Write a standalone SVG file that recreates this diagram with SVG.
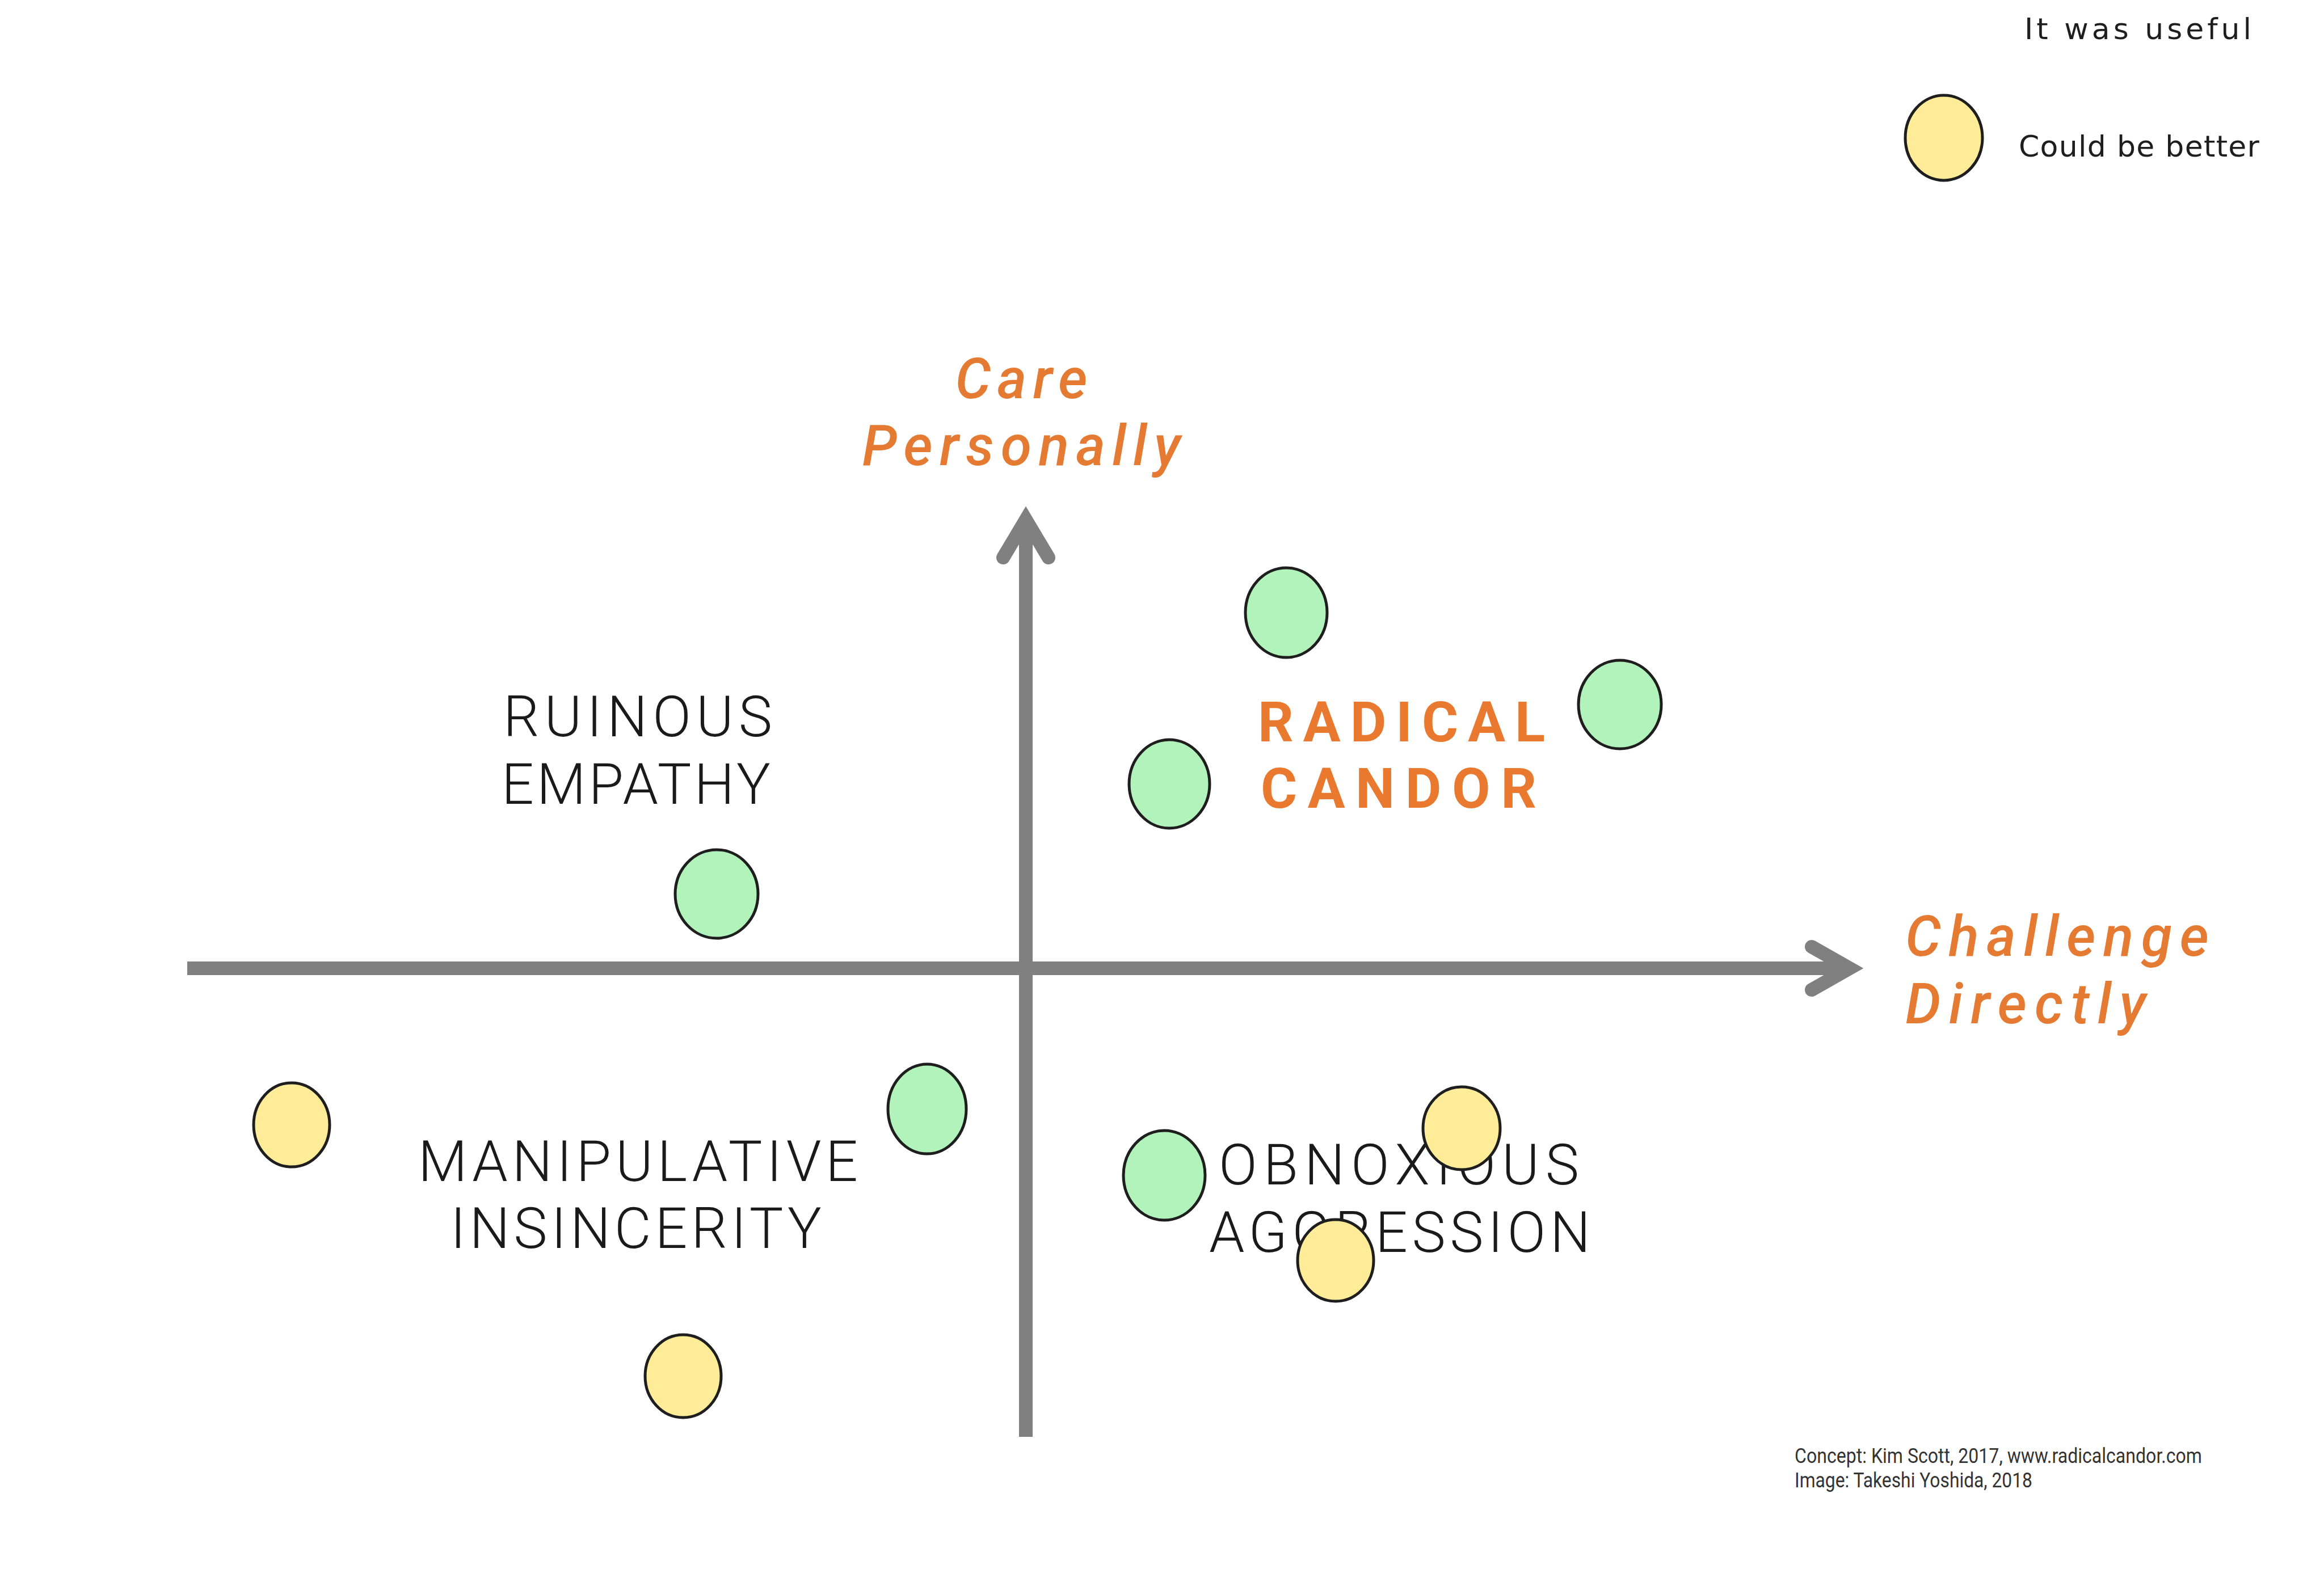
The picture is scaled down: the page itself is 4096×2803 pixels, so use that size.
<svg xmlns="http://www.w3.org/2000/svg" width="4096" height="2803" viewBox="0 0 4096 2803">
<style>
.axis{fill:none;stroke:#808080;stroke-width:24;stroke-linecap:butt}
.head{fill:none;stroke:#808080;stroke-width:24;stroke-linecap:round;stroke-linejoin:miter;stroke-miterlimit:10}
.dot{stroke:#1e1e1e;stroke-width:5}
.good{fill:#b2f2bb}
.meh{fill:#ffec99}
.quad{font-family:Roboto,"Liberation Sans",sans-serif;font-weight:300;font-size:100px;fill:#1a1a1a}
.rc{font-family:Roboto,"Liberation Sans",sans-serif;font-weight:700;font-size:98px;fill:#e8792f}
.ax{font-family:Roboto,"Liberation Sans",sans-serif;font-style:italic;font-weight:500;font-size:99px;fill:#e57a33}
.leg{font-family:"DejaVu Sans","Liberation Sans",sans-serif;font-size:52px;fill:#1e1e1e}
.foot{font-family:Roboto,"Liberation Sans",sans-serif;font-size:36px;fill:#333333}
</style>
<rect width="4096" height="2803" fill="#ffffff"/>

<g id="connectors">
  <line class="axis" x1="330" y1="1707" x2="3255" y2="1707"/>
  <polyline class="head" points="3193,1669 3260,1707 3193,1745"/>
  <line class="axis" x1="1808" y1="2533" x2="1808" y2="925"/>
  <polyline class="head" points="1768,983 1808,916 1848,983"/>
</g>

<g id="label-care-personally">
  <text class="ax" x="1800" y="702" text-anchor="middle" textLength="233" lengthAdjust="spacing">Care</text>
  <text class="ax" x="1800" y="820" text-anchor="middle" textLength="561" lengthAdjust="spacing">Personally</text>
</g>
<g id="label-challenge-directly">
  <text class="ax" x="3358" y="1685" textLength="535" lengthAdjust="spacing">Challenge</text>
  <text class="ax" x="3358" y="1804" textLength="424" lengthAdjust="spacing">Directly</text>
</g>

<g id="quad-ruinous-empathy">
  <text class="quad" x="887" y="1298" textLength="474" lengthAdjust="spacing">RUINOUS</text>
  <text class="quad" x="884" y="1417" textLength="474" lengthAdjust="spacing">EMPATHY</text>
</g>
<g id="quad-radical-candor">
  <text class="rc" x="2217" y="1307" textLength="506" lengthAdjust="spacing">RADICAL</text>
  <text class="rc" x="2222" y="1424" textLength="486" lengthAdjust="spacing">CANDOR</text>
</g>
<g id="quad-manipulative-insincerity">
  <text class="quad" x="737" y="2082" textLength="775" lengthAdjust="spacing">MANIPULATIVE</text>
  <text class="quad" x="794" y="2200" textLength="654" lengthAdjust="spacing">INSINCERITY</text>
</g>
<g id="quad-obnoxious-aggression">
  <text class="quad" x="2148" y="2088" textLength="635" lengthAdjust="spacing">OBNOXIOUS</text>
  <text class="quad" x="2131" y="2207" textLength="672" lengthAdjust="spacing">AGGRESSION</text>
</g>

<g id="vote-g1"><ellipse class="dot good" cx="2267" cy="1080" rx="72" ry="79"/></g>
<g id="vote-g2"><ellipse class="dot good" cx="2855" cy="1242" rx="73" ry="78"/></g>
<g id="vote-g3"><ellipse class="dot good" cx="2061" cy="1382" rx="71" ry="78"/></g>
<g id="vote-g4"><ellipse class="dot good" cx="1263" cy="1576" rx="73" ry="78"/></g>
<g id="vote-g5"><ellipse class="dot good" cx="1634" cy="1955" rx="69" ry="79"/></g>
<g id="vote-g6"><ellipse class="dot good" cx="2052" cy="2072" rx="72" ry="79"/></g>
<g id="vote-y1"><ellipse class="dot meh" cx="514" cy="1983" rx="67" ry="74"/></g>
<g id="vote-y2"><ellipse class="dot meh" cx="2576" cy="1989" rx="68" ry="73"/></g>
<g id="vote-y3"><ellipse class="dot meh" cx="2354" cy="2222" rx="67" ry="72"/></g>
<g id="vote-y4"><ellipse class="dot meh" cx="1204" cy="2426" rx="67" ry="73"/></g>

<g id="legend">
  <text class="leg" x="3568" y="69" textLength="400" lengthAdjust="spacing">It was useful</text>
  <ellipse class="dot meh" cx="3426" cy="243" rx="68" ry="75"/>
  <text class="leg" x="3558" y="276" textLength="424" lengthAdjust="spacing">Could be better</text>
</g>

<g id="credits">
  <text class="foot" x="3163" y="2579" textLength="718" lengthAdjust="spacingAndGlyphs">Concept: Kim Scott, 2017, www.radicalcandor.com</text>
  <text class="foot" x="3163" y="2622" textLength="419" lengthAdjust="spacingAndGlyphs">Image: Takeshi Yoshida, 2018</text>
</g>
</svg>
